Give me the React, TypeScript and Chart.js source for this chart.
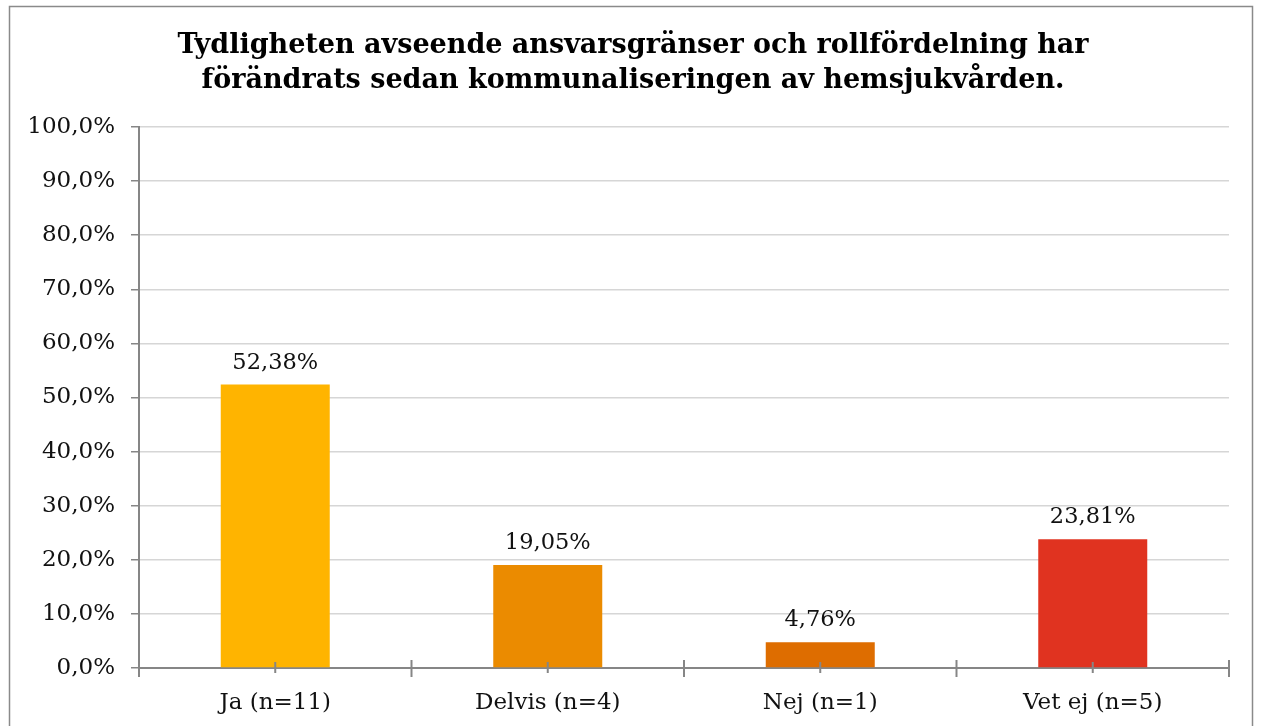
import React, { useEffect, useRef } from "react";
import { Chart, registerables } from "chart.js";

Chart.register(...registerables);

const TITLE_LINES = [
  "Tydligheten avseende ansvarsgränser och rollfördelning har",
  "förändrats sedan kommunaliseringen av hemsjukvården.",
];
const CATEGORIES = ["Ja (n=11)", "Delvis (n=4)", "Nej (n=1)", "Vet ej (n=5)"];
const VALUES = [52.38, 19.05, 4.76, 23.81];
const VALUE_LABELS = ["52,38%", "19,05%", "4,76%", "23,81%"];
const BAR_COLORS = ["#FFB400", "#EB8B00", "#DE6D00", "#E03320"];
const Y_MAX = 100;
const Y_STEP = 10;

const FONT = "'DejaVu Serif', Georgia, serif";
const AXIS_COLOR = "#868686";

const frame = {
  id: "frame",
  beforeDraw(chart: any) {
    const { ctx } = chart;
    ctx.save();
    ctx.fillStyle = "#ffffff";
    ctx.fillRect(0, 0, chart.width, chart.height);
    ctx.strokeStyle = "#8a8a8a";
    ctx.lineWidth = 1.5;
    ctx.strokeRect(9.5, 6.5, 1243, 800);
    ctx.restore();
  },
};

const centeredTitle = {
  id: "centeredTitle",
  afterDraw(chart: any) {
    const { ctx } = chart;
    ctx.save();
    ctx.font = `bold 27px ${FONT}`;
    ctx.fillStyle = "#000000";
    ctx.textAlign = "center";
    ctx.textBaseline = "alphabetic";
    TITLE_LINES.forEach((line, i) => {
      ctx.fillText(line, 633, 53 + i * 35);
    });
    ctx.restore();
  },
};

const xTicks = {
  id: "xTicks",
  afterDraw(chart: any) {
    const { ctx } = chart;
    const x = chart.scales.x;
    const y0 = chart.chartArea.bottom;
    ctx.save();
    ctx.strokeStyle = AXIS_COLOR;
    ctx.lineWidth = 2;
    const n = CATEGORIES.length;
    const step = x.getPixelForValue(1) - x.getPixelForValue(0);
    for (let i = 0; i <= n; i++) {
      const px = i < n ? x.getPixelForValue(i) - step / 2 : chart.chartArea.right;
      ctx.beginPath();
      ctx.moveTo(px, y0 - 8);
      ctx.lineTo(px, y0 + 9);
      ctx.stroke();
    }
    for (let i = 0; i < n; i++) {
      const px = x.getPixelForValue(i);
      ctx.beginPath();
      ctx.moveTo(px, y0 - 6);
      ctx.lineTo(px, y0 + 5);
      ctx.stroke();
    }
    ctx.restore();
  },
};

const valueLabels = {
  id: "valueLabels",
  afterDatasetsDraw(chart: any) {
    const { ctx } = chart;
    const meta = chart.getDatasetMeta(0);
    ctx.save();
    ctx.font = `22.5px ${FONT}`;
    ctx.fillStyle = "#111111";
    ctx.textAlign = "center";
    ctx.textBaseline = "alphabetic";
    meta.data.forEach((el: any, i: number) => {
      ctx.fillText(VALUE_LABELS[i], el.x, el.y - 16);
    });
    ctx.restore();
  },
};

export default function App() {
  const ref = useRef<HTMLCanvasElement>(null);
  useEffect(() => {
    if (!ref.current) return;
    const chart = new Chart(ref.current, {
      type: "bar",
      data: {
        labels: CATEGORIES,
        datasets: [
          {
            data: VALUES,
            backgroundColor: BAR_COLORS,
            barPercentage: 0.4,
            categoryPercentage: 1,
          },
        ],
      },
      options: {
        animation: false,
        responsive: false,
        layout: { padding: { left: 20, right: 33, top: 127, bottom: 0 } },
        plugins: {
          legend: { display: false },
          tooltip: { enabled: false },
          title: { display: false },
        },
        scales: {
          x: {
            grid: { display: false },
            border: { color: AXIS_COLOR, width: 2 },
            ticks: {
              color: "#111111",
              font: { family: FONT, size: 23 },
              padding: 13,
            },
            afterFit(scale: any) {
              scale.height = 58;
            },
          },
          y: {
            min: 0,
            max: Y_MAX,
            ticks: {
              stepSize: Y_STEP,
              color: "#111111",
              font: { family: FONT, size: 23 },
              padding: 16,
              callback: (v: any) => Number(v).toFixed(1).replace(".", ",") + "%",
            },
            grid: {
              color: "#d6d6d6",
              lineWidth: 1.5,
              tickColor: AXIS_COLOR,
              tickLength: 8,
              tickWidth: 1.5,
            },
            border: { color: AXIS_COLOR, width: 2 },
            afterFit(scale: any) {
              scale.width = 119;
            },
          },
        },
      },
      plugins: [frame, xTicks, valueLabels, centeredTitle],
    });
    return () => chart.destroy();
  }, []);
  return (
    <div style={{ position: "fixed", left: 0, top: 0, width: 1262, height: 726, background: "#fff" }}>
      <canvas ref={ref} width={1262} height={726} style={{ display: "block" }} />
    </div>
  );
}
